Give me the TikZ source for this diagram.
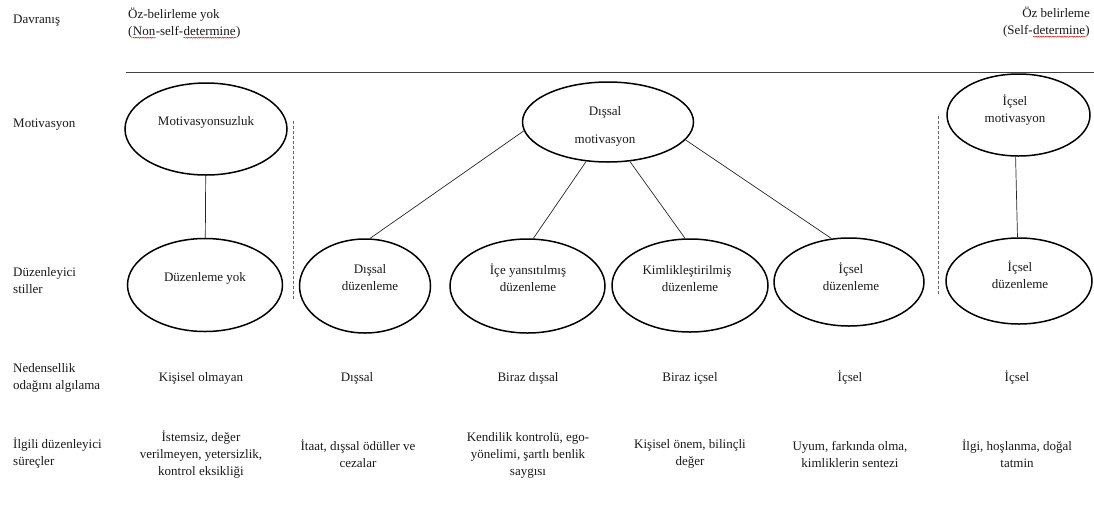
\documentclass[tikz,border=0pt]{standalone}
\usepackage{fontspec}
\setmainfont{Liberation Serif}
\usetikzlibrary{shapes.geometric,decorations.pathmorphing}
\newcommand\redwave[1]{\tikz[baseline=0pt,x=1pt,y=1pt]{\node[inner sep=0pt,anchor=base west,font=\fontsize{13}{17}\selectfont,text=black!90] (rwX) at (0,0) {#1};\draw[red!85!black,line width=0.45pt,decorate,decoration={snake,amplitude=0.55pt,segment length=2.4pt}] ([yshift=-2.6pt]rwX.base west) -- ([yshift=-2.6pt]rwX.base east);}}
\begin{document}
\begin{tikzpicture}[x=1pt,y=-1pt,
  every node/.style={font=\fontsize{13}{17}\selectfont, inner sep=0pt, text=black!90},
  ell/.style={ellipse, draw=black, line width=1.5pt, inner sep=0pt},
  lbl/.style={anchor=west, align=left},
  col/.style={align=center},
  conn/.style={line width=0.7pt, draw=black!85},
  sepline/.style={dash pattern=on 3pt off 2pt, line width=0.8pt, draw=black!60},
  rule/.style={line width=1pt, draw=black!75}]
\useasboundingbox (0,0) rectangle (1094,504);

% top row
\node[lbl] (davr) at (13,21) {Davranış};
\node[lbl] (nsd) at (128,23) {Öz-belirleme yok\\(\redwave{Non}-self-\redwave{determine})};
\node[anchor=east, align=right] (sd) at (1090,22) {Öz belirleme\\(Self-\redwave{determine})};
\coordinate (ruleL) at (126,72);
\coordinate (ruleR) at (1094,72);
\draw[rule] (ruleL) -- (ruleR);

% row labels
\node[lbl] (motl) at (13,125) {Motivasyon};
\node[lbl] (duzl) at (13,281) {Düzenleyici\\stiller};
\node[lbl] (nedl) at (13,378) {Nedensellik\\odağını algılama};
\node[lbl] (ilgl) at (13,453) {İlgili düzenleyici\\süreçler};

% motivation ellipses
\node[ell, minimum width=162pt, minimum height=92pt] (mz) at (206,129) {};
\node (mzt) at (206,122) {Motivasyonsuzluk};
\node[ell, minimum width=171pt, minimum height=80pt] (dm) at (608,122) {};
\node[col] (dmt) at (605,126) {Dışsal\\[11pt]motivasyon};
\node[ell, minimum width=143pt, minimum height=82pt] (im) at (1018.5,115) {};
\node[col] (imt) at (1015,110) {İçsel\\motivasyon};

% regulation ellipses
\node[ell, minimum width=155pt, minimum height=93pt] (dy) at (205,285) {};
\node (dyt) at (205,278) {Düzenleme yok};
\node[ell, minimum width=131pt, minimum height=94pt] (dd) at (365,286) {};
\node[col] (ddt) at (370,278) {Dışsal\\düzenleme};
\node[ell, minimum width=155pt, minimum height=94pt] (iy) at (527.5,286) {};
\node[col] (iyt) at (528,278) {İçe yansıtılmış\\düzenleme};
\node[ell, minimum width=156pt, minimum height=93pt] (kd) at (690,285.5) {};
\node[col] (kdt) at (687,279) {Kimlikleştirilmiş\\\hspace*{6pt}düzenleme};
\node[ell, minimum width=150pt, minimum height=88pt] (id) at (849,282) {};
\node[col] (idt) at (851,277) {İçsel\\düzenleme};
\node[ell, minimum width=146pt, minimum height=86pt] (id2) at (1019,281) {};
\node[col] (id2t) at (1020,275) {İçsel\\düzenleme};

% connectors
\draw[conn] (mz) -- (dy);
\draw[conn] (dm.186) -- (dd.84);
\draw[conn] (dm.241) -- (iy.83);
\draw[conn] (dm.299) -- (kd.96);
\draw[conn] (dm.347) -- (id.112);
\draw[conn] (im.266) -- (id2.92);

% dashed separators
\coordinate (s1a) at (293,121);
\coordinate (s1b) at (293,300);
\coordinate (s2a) at (938,116);
\coordinate (s2b) at (938,294);
\draw[sepline] (s1a) -- (s1b);
\draw[sepline] (s2a) -- (s2b);

% perceived locus of causality
\node (n1) at (201,378) {Kişisel olmayan};
\node (n2) at (357,378) {Dışsal};
\node (n3) at (528,378) {Biraz dışsal};
\node (n4) at (690,378) {Biraz içsel};
\node (n5) at (850,378) {İçsel};
\node (n6) at (1017,378) {İçsel};

% regulatory processes
\node[col] (r1) at (201,455) {İstemsiz, değer\\verilmeyen, yetersizlik,\\kontrol eksikliği};
\node[col] (r2) at (358,454) {İtaat, dışsal ödüller ve\\cezalar};
\node[col] (r3) at (528,455) {Kendilik kontrolü, ego-\\yönelimi, şartlı benlik\\saygısı};
\node[col] (r4) at (690,454) {Kişisel önem, bilinçli\\değer};
\node[col] (r5) at (850,454) {Uyum, farkında olma,\\kimliklerin sentezi};
\node[col] (r6) at (1017,454) {İlgi, hoşlanma, doğal\\tatmin};
\end{tikzpicture}
\end{document}
